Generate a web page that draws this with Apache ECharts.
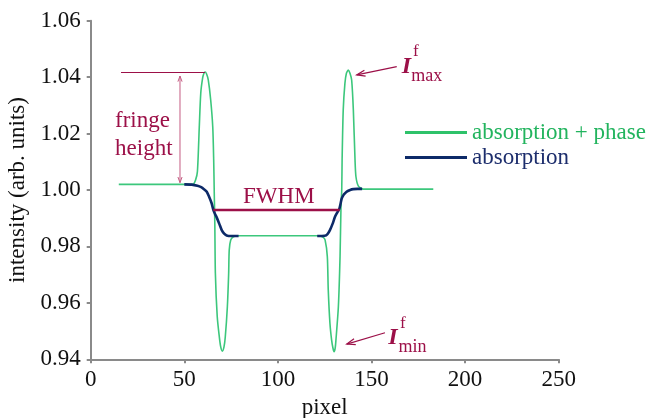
<!DOCTYPE html>
<html>
<head>
<meta charset="utf-8">
<script src="https://cdn.jsdelivr.net/npm/echarts@6/dist/echarts.min.js"></script>
<style>
  html, body { margin: 0; padding: 0; background: #ffffff; }
  #chart { width: 654px; height: 418px; }
</style>
</head>
<body>
<div id="chart"></div>
<script>
// Intensity profile across an edge: absorption only vs absorption + phase contrast
const phaseX = [15, 54.6, 56, 57, 58, 58.8, 59.8, 60.4, 61.1, 61.9, 62.8, 64.1, 65.2, 65.7, 66.0, 66.3, 66.6, 67.6, 68.7, 69.4, 70.3, 71.2, 71.9, 73.0, 73.7, 74.0, 74.8, 76.2, 78.7,
  121.6, 124, 125.2, 126.4, 126.9, 127.8, 128.7, 129.4, 130.0, 130.6, 131.0, 132.3, 133.2, 133.7, 134.1, 134.3, 134.9, 135.8, 136.6, 137.6, 138.5, 139.4, 140.3, 141.2, 141.7, 143.0, 145.6, 183];
const phaseY = [1.002, 1.002, 1.0035, 1.0065, 1.0223, 1.0344, 1.0397, 1.0412, 1.0418, 1.0411, 1.0390, 1.0319, 1.0223, 1.0106, 0.9989, 0.9882, 0.9705, 0.9551, 0.9480, 0.9446, 0.9429, 0.9444, 0.9480, 0.9586, 0.9705, 0.9787, 0.9823, 0.9834, 0.9838,
  0.9838, 0.9833, 0.9823, 0.9764, 0.9646, 0.9528, 0.9468, 0.9440, 0.9427, 0.9440, 0.9468, 0.9586, 0.9764, 0.9941, 1.0000, 1.0106, 1.0284, 1.0378, 1.0414, 1.0425, 1.0414, 1.0390, 1.0284, 1.0106, 1.0047, 1.0014, 1.0003, 1.0003];

// absorption-only curve, shown across the two edges
const absX = [50, 54, 57, 59, 60.5, 62, 63.3, 64.6, 65.5, 66.4, 67.3, 68.7, 70, 71.3, 72.6, 75, 79,
  100,
  121, 125, 126.5, 127.8, 129.2, 130.5, 131.7, 132.8, 133.5, 134.1, 135, 135.8, 136.8, 138.6, 140.3, 142.5, 145];
const absY = [1.0020, 1.0019, 1.0015, 1.0010, 1.0003, 0.9994, 0.9975, 0.9953, 0.9930, 0.9915, 0.9903, 0.9880, 0.9858, 0.9845, 0.9839, 0.9837, 0.9837,
  null,
  0.9837, 0.9838, 0.9844, 0.9858, 0.9880, 0.9905, 0.9920, 0.9933, 0.9952, 0.9970, 0.9982, 0.9988, 0.9994, 1.0000, 1.0003, 1.0004, 1.0004];

const yTicks = [0.94, 0.96, 0.98, 1.00, 1.02, 1.04, 1.06];
const xTicks = [0, 50, 100, 150, 200, 250];

// annotation values
const fringeTop = 1.0416;      // I_max level
const fringeBase = 1.002;      // background level
const halfMax = 0.993;         // FWHM level
const fwhmLeft = 65.5, fwhmRight = 133.0;

const SERIF = '"Liberation Serif", "Times New Roman", serif';
const GREEN = '#2ec26a';
const NAVY = '#0d2a68';
const MAROON = '#9c1048';
const AXIS = '#8a8a8a';

const chart = echarts.init(document.getElementById('chart'));

const option = {
  animation: false,
  backgroundColor: '#ffffff',
  grid: { left: 90.7, right: 95.3, top: 20.7, bottom: 58.7, containLabel: false, outerBoundsMode: 'none' },
  xAxis: {
    type: 'value', min: xTicks[0], max: xTicks[xTicks.length - 1], interval: 50,
    name: 'pixel', nameLocation: 'middle', nameGap: 36,
    nameTextStyle: { fontFamily: SERIF, fontSize: 23, color: '#111' },
    axisLine: { onZero: false, lineStyle: { color: AXIS, width: 2 } },
    axisTick: { show: true, length: 4, lineStyle: { color: AXIS, width: 2 } },
    axisLabel: { fontFamily: SERIF, fontSize: 23, color: '#111', margin: 9 },
    splitLine: { show: false }
  },
  yAxis: {
    type: 'value', min: yTicks[0], max: yTicks[yTicks.length - 1], interval: 0.02,
    name: 'intensity (arb. units)', nameLocation: 'middle', nameGap: 60,
    nameTextStyle: { fontFamily: SERIF, fontSize: 23, color: '#111' },
    axisLine: { show: true, lineStyle: { color: AXIS, width: 2 } },
    axisTick: { show: true, length: 4, lineStyle: { color: AXIS, width: 2 } },
    axisLabel: { fontFamily: SERIF, fontSize: 23, color: '#111', margin: 10,
      formatter: v => v.toFixed(2) },
    splitLine: { show: false }
  },
  legend: {
    orient: 'vertical', left: 405, top: 121, itemGap: 2, padding: 0,
    itemWidth: 62, itemHeight: 3, icon: 'rect',
    textStyle: { fontFamily: SERIF, fontSize: 23 },
    data: [
      { name: 'absorption + phase', textStyle: { color: '#22b45e' } },
      { name: 'absorption', textStyle: { color: '#1c2d6c' } }
    ]
  },
  series: [
    {
      name: 'absorption + phase', type: 'line', showSymbol: false, symbol: 'none',
      smooth: 0.25, z: 2,
      color: GREEN,
      lineStyle: { color: '#3cc77c', width: 1.6 },
      data: phaseX.map((x, i) => [x, phaseY[i]]),
      markLine: {
        silent: true, symbol: 'none', label: { show: false },
        lineStyle: { color: MAROON, type: 'solid', width: 1 },
        data: [
          [{ coord: [16.2, fringeTop] }, { coord: [61.1, fringeTop] }]
        ]
      }
    },
    {
      name: 'absorption', type: 'line', showSymbol: false, symbol: 'none',
      smooth: 0.25, z: 4, connectNulls: false,
      color: NAVY,
      lineStyle: { color: NAVY, width: 2.6 },
      data: absX.map((x, i) => [x, absY[i] === null ? '-' : absY[i]]),
      markLine: {
        silent: true, symbol: 'none', label: { show: false },
        lineStyle: { color: MAROON, type: 'solid', width: 2.4 },
        data: [
          [{ coord: [fwhmLeft, halfMax] }, { coord: [fwhmRight, halfMax] }]
        ]
      }
    }
  ]
};
chart.setOption(option);

// ---- annotations placed in data coordinates ----
const px = (x, y) => chart.convertToPixel({ gridIndex: 0 }, [x, y]);

function openHead(tip, from, size, half) {
  const dx = from[0] - tip[0], dy = from[1] - tip[1];
  const len = Math.hypot(dx, dy);
  const ux = dx / len, uy = dy / len;
  const c = Math.cos(half), s = Math.sin(half);
  const a = [tip[0] + size * (ux * c - uy * s), tip[1] + size * (ux * s + uy * c)];
  const b = [tip[0] + size * (ux * c + uy * s), tip[1] + size * (-ux * s + uy * c)];
  return [a, tip, b];
}

function arrow(fromD, toD, color, width, size, both) {
  const p0 = px(fromD[0], fromD[1]), p1 = px(toD[0], toD[1]);
  const els = [
    { type: 'polyline', shape: { points: [p0, p1] }, style: { stroke: color, lineWidth: width, fill: null }, z: 10 },
    { type: 'polyline', shape: { points: openHead(p1, p0, size, 0.35) }, style: { stroke: color, lineWidth: width, fill: null }, z: 10 }
  ];
  if (both) {
    els.push({ type: 'polyline', shape: { points: openHead(p0, p1, size, 0.35) }, style: { stroke: color, lineWidth: width, fill: null }, z: 10 });
  }
  return els;
}

function label(text, xD, yD, size, opts) {
  const p = px(xD, yD);
  return Object.assign({
    type: 'text', x: p[0], y: p[1], z: 10,
    style: Object.assign({ text: text, fill: MAROON, font: size + 'px ' + SERIF,
      align: 'left', verticalAlign: 'middle' }, (opts && opts.style) || {})
  }, (opts && opts.el) || {});
}

const graphics = [];
// fringe height double arrow
graphics.push(...arrow([47.7, 1.0026], [47.7, 1.0404], '#c45c82', 1, 6, true));
graphics.push(label('fringe', 13.0, 1.0246, 23));
graphics.push(label('height', 13.0, 1.0144, 23));
// FWHM
graphics.push(label('FWHM', 100.5, 0.9975, 23, { style: { align: 'center' } }));
// I_max
graphics.push(...arrow([163.5, 1.0437], [142.1, 1.0408], MAROON, 1.2, 9, false));
graphics.push(label('I', 166.1, 1.0436, 24, { style: { font: 'italic bold 24px ' + SERIF } }));
graphics.push(label('f', 172.2, 1.0490, 17));
graphics.push(label('max', 171.3, 1.0403, 18));
// I_min
graphics.push(...arrow([157.2, 0.9494], [136.8, 0.9454], MAROON, 1.2, 9, false));
graphics.push(label('I', 159.0, 0.9475, 24, { style: { font: 'italic bold 24px ' + SERIF } }));
graphics.push(label('f', 165.2, 0.9525, 17));
graphics.push(label('min', 164.4, 0.9443, 18));

chart.setOption({ graphic: graphics });
</script>
</body>
</html>
